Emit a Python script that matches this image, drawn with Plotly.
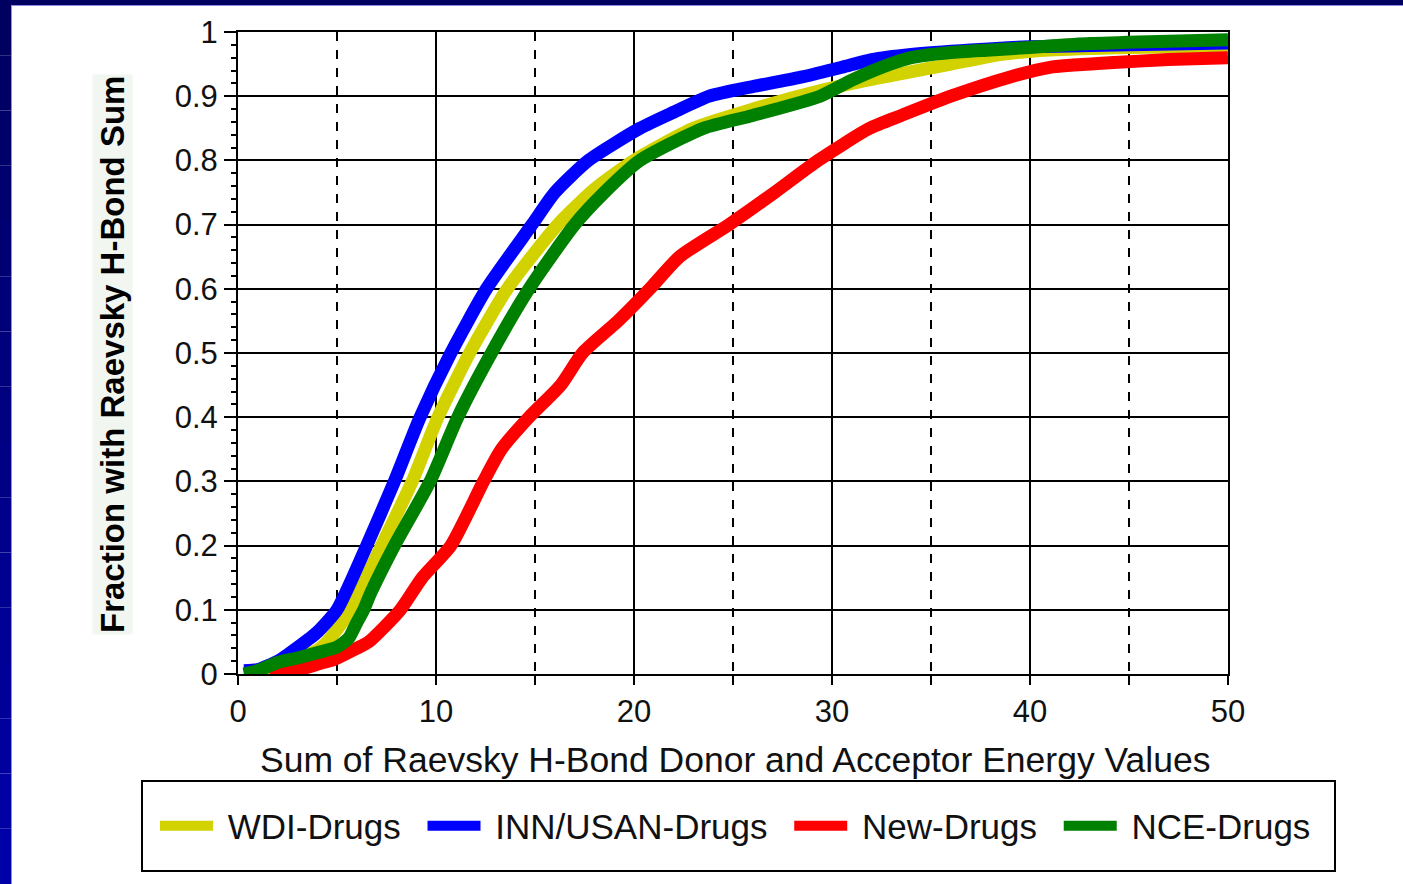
import plotly.graph_objects as go

# Cumulative fraction of compounds vs. summed Raevsky H-bond energy
wdi_x = [0.3, 1, 2, 3, 4, 4.5, 5.7, 7.25, 8.8, 10.1, 11.7, 13.6, 16.15, 18, 20, 23, 25.5, 28.3, 31, 33.5, 36, 38.5, 41, 45, 50]
wdi_y = [0.0, 0.003, 0.012, 0.025, 0.037, 0.05, 0.1, 0.2, 0.3, 0.4, 0.5, 0.6, 0.7, 0.755, 0.8, 0.85, 0.875, 0.9, 0.92, 0.935, 0.95, 0.965, 0.972, 0.976, 0.978]

inn_x = [0.3, 1, 2, 2.5, 3.6, 4, 5.0, 6.5, 7.9, 9.2, 10.75, 12.55, 14.85, 16, 17.7, 20.3, 22, 23.8, 26, 28.5, 30.5, 32, 34, 37, 40, 45, 50]
inn_y = [0.005, 0.007, 0.02, 0.03, 0.055, 0.065, 0.1, 0.2, 0.3, 0.4, 0.5, 0.6, 0.7, 0.75, 0.8, 0.85, 0.875, 0.9, 0.915, 0.93, 0.945, 0.957, 0.965, 0.972, 0.977, 0.98, 0.983]

new_x = [1.6, 2.9, 4.3, 4.8, 6.0, 6.6, 8.2, 9.3, 10.75, 12.4, 13.3, 14.7, 16.3, 17.4, 19.2, 20.8, 22.3, 24.8, 27.1, 29.3, 31.9, 33.5, 36, 39, 41, 44, 47, 50]
new_y = [0.0, 0.005, 0.018, 0.022, 0.04, 0.05, 0.1, 0.15, 0.2, 0.3, 0.35, 0.4, 0.45, 0.5, 0.55, 0.6, 0.65, 0.7, 0.75, 0.8, 0.85, 0.87, 0.9, 0.93, 0.945, 0.952, 0.957, 0.96]

nce_x = [0.3, 1, 2, 3, 4, 5, 5.6, 6.0, 6.35, 6.7, 7.9, 9.7, 11.1, 12.8, 14.7, 17.0, 18.5, 20.3, 23.5, 26, 29.4, 31, 32.5, 34, 36, 38, 40, 43, 46, 50]
nce_y = [0.0, 0.005, 0.018, 0.025, 0.033, 0.042, 0.056, 0.08, 0.1, 0.126, 0.2, 0.3, 0.4, 0.5, 0.6, 0.7, 0.75, 0.8, 0.85, 0.87, 0.9, 0.925, 0.945, 0.96, 0.968, 0.972, 0.976, 0.982, 0.985, 0.988]

series_names = ["WDI-Drugs", "INN/USAN-Drugs", "New-Drugs", "NCE-Drugs"]
series_colors = ["#D2D200", "#0000FF", "#FF0000", "#008000"]
series_data = [(wdi_x, wdi_y), (inn_x, inn_y), (new_x, new_y), (nce_x, nce_y)]

FONT = "Liberation Sans, Arial, sans-serif"
W, H = 1403, 884
L, R, T, B = 238, 175, 32, 210
PW, PH = W - L - R, H - T - B
LEAD = "\u00a0"
TRAIL = "\u00a0\u2009"


def px(xp):
    return (xp - L) / PW


def py(yp):
    return (H - B - yp) / PH


fig = go.Figure()
for name, color, (xs, ys) in zip(series_names, series_colors, series_data):
    fig.add_trace(go.Scatter(
        x=xs, y=ys, mode="lines", name=LEAD + name + TRAIL,
        line=dict(color=color, width=13, shape="spline", smoothing=0.6),
    ))

shapes = []
# dark frame along the top and left edges of the page
shapes.append(dict(type="rect", xref="paper", yref="paper",
                   x0=px(0), x1=px(W), y0=py(5), y1=py(0),
                   fillcolor="#000060", line=dict(width=0), layer="above"))
nseg = 16
for i in range(nseg):
    t = i / (nseg - 1)
    b = int(0x60 + (0xA8 - 0x60) * t)
    y_top = H * i / nseg
    y_bot = H * (i + 1) / nseg
    shapes.append(dict(type="rect", xref="paper", yref="paper",
                       x0=px(0), x1=px(11), y0=py(y_bot), y1=py(y_top),
                       fillcolor=f"rgb(0,0,{b})", line=dict(width=0), layer="above"))
shapes.append(dict(type="line", xref="paper", yref="paper",
                   x0=px(11.5), x1=px(11.5), y0=py(H), y1=py(5),
                   line=dict(color="#8c8ce0", width=1), layer="above"))
shapes.append(dict(type="line", xref="paper", yref="paper",
                   x0=px(11), x1=px(W), y0=py(5.5), y1=py(5.5),
                   line=dict(color="#8c8ce0", width=1), layer="above"))
# legend frame
shapes.append(dict(type="rect", xref="paper", yref="paper",
                   x0=px(142), x1=px(1335), y0=py(871), y1=py(781),
                   line=dict(color="black", width=2), fillcolor="rgba(0,0,0,0)"))

annotations = [
    dict(text="Sum of Raevsky H-Bond Donor and Acceptor Energy Values",
         xref="paper", yref="paper", x=px(735), y=py(760),
         xanchor="center", yanchor="middle", showarrow=False,
         font=dict(family=FONT, size=35.5, color="#111111")),
    dict(text="<b>Fraction with Raevsky H-Bond Sum</b>",
         xref="paper", yref="paper", x=px(112), y=py(355),
         xanchor="center", yanchor="middle", showarrow=False, textangle=-90,
         bgcolor="#f1f6f1",
         font=dict(family=FONT, size=33, color="#000000")),
]

fig.update_layout(
    width=W, height=H, autosize=False,
    margin=dict(l=L, r=R, t=T, b=B),
    paper_bgcolor="white", plot_bgcolor="white",
    font=dict(family=FONT, color="#111111"),
    showlegend=True,
    legend=dict(orientation="h", x=px(155), y=py(826), xanchor="left", yanchor="middle",
                font=dict(family=FONT, size=35, color="#111111"),
                bgcolor="rgba(0,0,0,0)", borderwidth=0, itemwidth=53),
    shapes=shapes,
    annotations=annotations,
    xaxis=dict(range=[0, 50], dtick=10, tick0=0, ticks="outside", ticklen=9, tickwidth=2,
               tickcolor="black", showgrid=True, gridcolor="black", gridwidth=2,
               zeroline=False, showline=True, linecolor="black", linewidth=2, mirror=True,
               tickfont=dict(family=FONT, size=31, color="#111111"),
               minor=dict(dtick=5, tick0=0, ticks="outside", ticklen=9, tickwidth=2,
                          tickcolor="black", showgrid=True, gridcolor="black",
                          gridwidth=1.5, griddash="dash")),
    yaxis=dict(range=[0, 1], dtick=0.1, tick0=0, ticks="outside", ticklen=12, tickwidth=2,
               tickcolor="black", showgrid=True, gridcolor="black", gridwidth=2,
               zeroline=False, showline=True, linecolor="black", linewidth=2, mirror=True,
               tickfont=dict(family=FONT, size=31, color="#111111"),
               minor=dict(dtick=0.02, tick0=0, ticks="outside", ticklen=5, tickwidth=1.5,
                          tickcolor="black", showgrid=False)),
)

fig.write_html("out.html")
